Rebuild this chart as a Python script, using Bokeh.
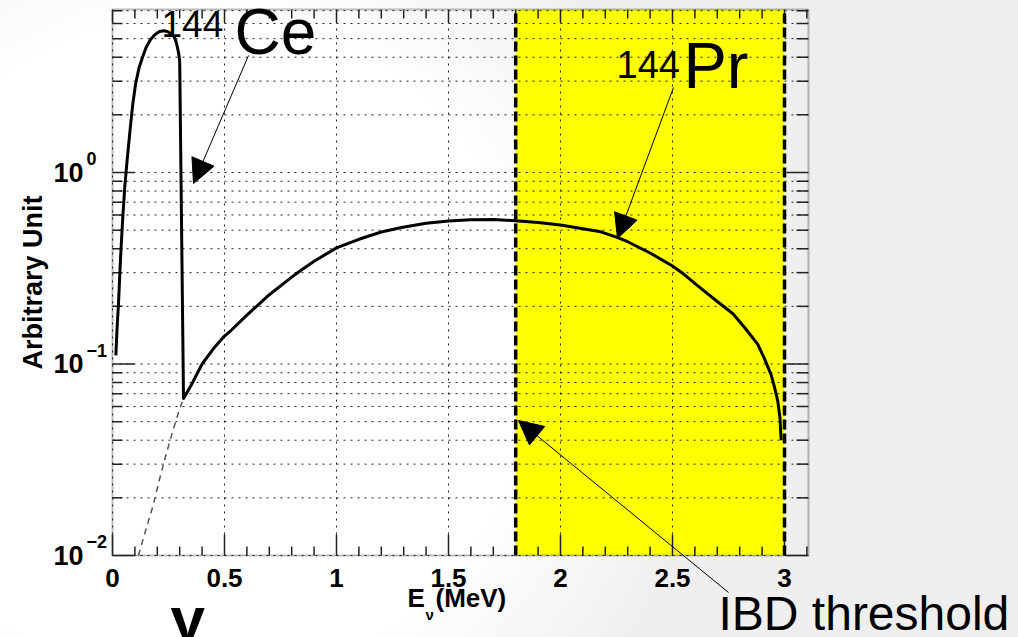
import math
from bokeh.plotting import figure
from bokeh.models import BoxAnnotation, Arrow, NormalHead, Label, Range1d
from bokeh.core.properties import value
from bokeh.embed import file_html
from bokeh.resources import INLINE

# ---------------- data ----------------
ce_energy = [0.015, 0.020, 0.027, 0.036, 0.045, 0.055, 0.066, 0.078, 0.090, 0.103,
             0.118, 0.134, 0.150, 0.170, 0.190, 0.210, 0.228, 0.245, 0.262, 0.275,
             0.283, 0.290, 0.296, 0.300]
ce_value = [0.111, 0.150, 0.210, 0.360, 0.560, 0.850, 1.18, 1.65, 2.25, 2.90,
            3.50, 4.00, 4.50, 4.95, 5.25, 5.45, 5.50, 5.45, 5.30, 5.10,
            4.85, 4.50, 4.15, 3.80]

pr_energy = [0.317, 0.350, 0.400, 0.450, 0.500, 0.530, 0.600, 0.700, 0.800, 0.840,
             0.900, 1.000, 1.100, 1.200, 1.290, 1.400, 1.500, 1.600, 1.700, 1.800,
             1.900, 2.000, 2.100, 2.180, 2.250, 2.300, 2.400, 2.500, 2.550, 2.620,
             2.700, 2.770, 2.830, 2.880, 2.910, 2.940, 2.955, 2.970, 2.980, 2.985]
pr_value = [0.066, 0.077, 0.100, 0.120, 0.140, 0.150, 0.180, 0.230, 0.284, 0.308,
            0.344, 0.404, 0.448, 0.489, 0.516, 0.543, 0.558, 0.566, 0.568, 0.560,
            0.548, 0.532, 0.508, 0.490, 0.460, 0.435, 0.380, 0.325, 0.295, 0.252,
            0.212, 0.183, 0.151, 0.127, 0.107, 0.088, 0.076, 0.064, 0.052, 0.040]

pr_low_energy = [0.116, 0.150, 0.180, 0.210, 0.240, 0.270, 0.295, 0.317]
pr_low_value = [0.010, 0.0138, 0.018, 0.025, 0.034, 0.045, 0.056, 0.066]

ibd_threshold = 1.8
pr_endpoint = 3.0

x_tick_values = [0, 0.5, 1, 1.5, 2, 2.5, 3]
x_tick_labels = ["0", "0.5", "1", "1.5", "2", "2.5", "3"]
y_tick_values = [0.01, 0.1, 1.0]
y_tick_bases = ["10", "10", "10"]
y_tick_exponents = ["\u22122", "\u22121", "0"]

# axes extent of the plotted box
x_start, x_end = 0.0, 3.107
y_start, y_end = 0.01, 7.1

FONT = "Liberation Sans"
INK = "#222222"
W, H = 1018, 637

# page-pixel geometry of the scales (E = 0 at px 112, 224 px per MeV;
# value 1 at py 172, 191.5 px per decade)
PX0, PXU = 112.0, 224.0
PY1, PYD = 172.0, 191.5


def dx(px):
    return (px - PX0) / PXU


def dy(py):
    return 10 ** ((PY1 - py) / PYD)


p = figure(width=W, height=H,
           x_range=Range1d(dx(0), dx(W)), y_range=Range1d(dy(H), dy(0)),
           y_axis_type="log", output_backend="svg", toolbar_location=None,
           min_border=0, min_border_left=0, min_border_right=0,
           min_border_top=0, min_border_bottom=0)
p.axis.visible = False
p.grid.visible = False
p.background_fill_color = None
p.border_fill_color = None
p.outline_line_color = None
p.styles = {"background": "radial-gradient(circle at 200px 350px, #ffffff 0px, "
                          "#ffffff 330px, #efefef 520px, #eeeeee 1000px)"}

x_minor = [round(i * 0.1, 1) for i in range(0, 32) if round(i * 0.1, 1) not in x_tick_values]
y_minor = [m * 10.0 ** k for k in (-2, -1, 0) for m in range(2, 10) if m * 10.0 ** k < y_end]

# IBD region (under the grid)
p.add_layout(BoxAnnotation(left=ibd_threshold, right=pr_endpoint, bottom=y_start, top=y_end,
                           fill_color="#ffff00", fill_alpha=1.0, line_color=None,
                           level="image"))

# dotted grid
grid_kw = dict(line_color=INK, line_width=1, line_dash="2 5")
p.segment(x0=x_tick_values, y0=[y_start] * len(x_tick_values),
          x1=x_tick_values, y1=[y_end] * len(x_tick_values), **grid_kw)
y_grid = y_tick_values + y_minor
p.segment(x0=[x_start] * len(y_grid), y0=y_grid, x1=[x_end] * len(y_grid), y1=y_grid,
          **grid_kw)

# inward ticks on the four sides
tick_kw = dict(line_color=INK, line_width=1.5, length_units="screen")
nx, nxm, ny, nym = len(x_tick_values), len(x_minor), len(y_tick_values), len(y_minor)
p.ray(x=x_tick_values, y=[y_start] * nx, length=21, angle=math.pi / 2, **tick_kw)
p.ray(x=x_minor, y=[y_start] * nxm, length=9, angle=math.pi / 2, **tick_kw)
p.ray(x=x_tick_values, y=[y_end] * nx, length=13, angle=-math.pi / 2, **tick_kw)
p.ray(x=x_minor, y=[y_end] * nxm, length=9, angle=-math.pi / 2, **tick_kw)
p.ray(x=[x_start] * ny, y=y_tick_values, length=22, angle=0, **tick_kw)
p.ray(x=[x_start] * nym, y=y_minor, length=10, angle=0, **tick_kw)
p.ray(x=[x_end] * ny, y=y_tick_values, length=22, angle=math.pi, **tick_kw)
p.ray(x=[x_end] * nym, y=y_minor, length=12, angle=math.pi, **tick_kw)

# curves
p.line(ce_energy + pr_energy, ce_value + pr_value, line_color="black", line_width=3,
       line_join="round")
p.line(pr_low_energy, pr_low_value, line_color="#555555", line_width=1.5,
       line_dash="6 5")

# dashed limits of the IBD region
p.segment(x0=[ibd_threshold, pr_endpoint], y0=[y_start, y_start],
          x1=[ibd_threshold, pr_endpoint], y1=[y_end, y_end],
          line_color="black", line_width=3.5, line_dash="10 4")

# frame
p.add_layout(BoxAnnotation(left=x_start, right=x_end, bottom=y_start, top=y_end,
                           fill_color=None, fill_alpha=0, line_color=INK, line_width=2))

SH = 0.38  # baseline correction (fraction of the font size)

# tick labels
p.text(x=x_tick_values, y=[y_start] * nx, text=x_tick_labels, text_align="center",
       text_baseline="alphabetic", y_offset=32 - SH * 26, text_font=value(FONT),
       text_font_style="bold", text_font_size="26px", text_color="black")
p.text(x=[x_start] * ny, y=y_tick_values, text=y_tick_bases, text_align="left",
       text_baseline="alphabetic", x_offset=-59, y_offset=10 - SH * 27,
       text_font=value(FONT), text_font_style="bold", text_font_size="27px",
       text_color="black")
p.text(x=[x_start] * ny, y=y_tick_values, text=y_tick_exponents, text_align="left",
       text_baseline="alphabetic", x_offset=-26, y_offset=-7 - SH * 18,
       text_font=value(FONT), text_font_style="bold", text_font_size="18px",
       text_color="black")


def label_px(px, py, text, size, bold=False, angle=0.0, align="left"):
    """Text with its origin at page pixel px and its baseline at page pixel py."""
    if angle == 0.0:
        x, y = dx(px), dy(py - SH * size)
    else:
        x, y = dx(px - SH * size), dy(py)
    p.add_layout(Label(x=x, y=y, text=text, text_font=FONT, text_font_size=f"{size}px",
                       text_font_style="bold" if bold else "normal", text_color="black",
                       text_align=align, text_baseline="alphabetic", angle=angle))


# axis titles
label_px(43, 282, "Arbitrary Unit", 27, True, angle=math.pi / 2, align="center")
label_px(407, 607, "E", 26, True)
label_px(425, 620, "\u03bd", 15, True)
label_px(435, 607, "(MeV)", 26, True)

# isotope labels and notes
label_px(161, 38, "144", 37)
label_px(234, 56, "Ce", 64)
label_px(616, 78, "144", 38)
label_px(683, 90, "Pr", 65)
label_px(718, 631, "IBD threshold", 48)
label_px(170, 642, "\u03b3", 62, True)

# arrows (tail and tip in page pixels)
for (x0, y0), (x1, y1) in [((248, 55), (193, 183)),
                           ((673, 87), (617, 238)),
                           ((728, 592), (518, 420))]:
    p.add_layout(Arrow(end=NormalHead(size=24, fill_color="black", line_color="black"),
                       x_start=dx(x0), y_start=dy(y0), x_end=dx(x1), y_end=dy(y1),
                       line_color="black", line_width=1))

open("out.html", "w").write(file_html(p, INLINE))
